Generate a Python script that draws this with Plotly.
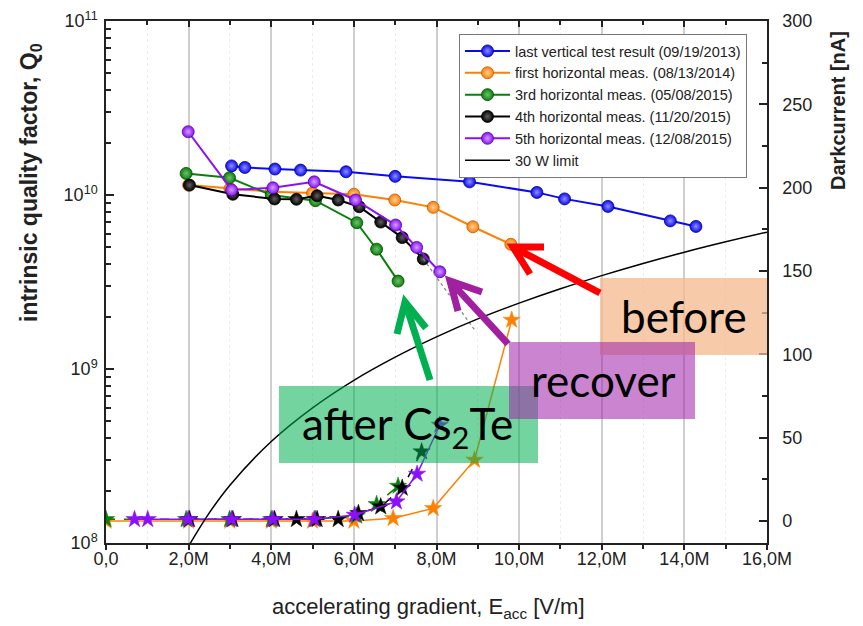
import plotly.graph_objects as go

# ---------------- data ----------------
E_blue = [3.04, 3.36, 4.09, 4.71, 5.81, 7.00, 8.80, 10.43, 11.10, 12.15, 13.66, 14.28]
Q_blue = [1.47e10, 1.44e10, 1.41e10, 1.39e10, 1.36e10, 1.28e10, 1.19e10, 1.035e10, 9.5e9, 8.6e9, 7.1e9, 6.6e9]

E_orange = [2.0, 3.0, 4.0, 5.0, 6.0, 6.99, 7.92, 8.88, 9.80]
Q_orange = [1.14e10, 1.087e10, 1.044e10, 1.026e10, 1.01e10, 9.36e9, 8.49e9, 6.57e9, 5.21e9]

E_green = [1.94, 2.99, 4.0, 5.07, 6.07, 6.55, 7.07]
Q_green = [1.33e10, 1.256e10, 1.0e10, 9.27e9, 6.93e9, 4.88e9, 3.2e9]

E_black = [2.02, 3.07, 4.08, 4.61, 5.11, 5.62, 6.13, 6.65, 7.17, 7.68]
Q_black = [1.14e10, 1.01e10, 9.49e9, 9.45e9, 9.9e9, 9.36e9, 8.56e9, 6.99e9, 5.69e9, 4.29e9]
E_black_ext = [7.68, 8.96]
Q_black_ext = [4.29e9, 1.63e9]

E_purple = [1.99, 3.04, 4.04, 5.04, 6.04, 7.01, 7.52, 8.08]
Q_purple = [2.31e10, 1.07e10, 1.10e10, 1.19e10, 9.36e9, 6.72e9, 5.0e9, 3.62e9]

E_limit = [2.0, 2.5, 3, 4, 5, 6, 7, 8, 9, 10, 11, 12, 13, 14, 15, 16]
Q_limit = [9.6e7, 1.49e8, 2.15e8, 3.83e8, 5.98e8, 8.61e8, 1.17e9, 1.53e9, 1.94e9,
           2.39e9, 2.89e9, 3.44e9, 4.04e9, 4.69e9, 5.38e9, 6.12e9]

E_orange_dc = [0.0, 2.0, 3.0, 4.0, 5.0, 6.0, 6.95, 7.92, 8.92, 9.82]
I_orange_dc = [0, 0, 0, 0, 0, 0, 1.6, 7.6, 36.6, 120.6]
E_green_dc = [0.0, 1.94, 2.99, 4.0, 5.07, 6.07, 6.55, 7.07]
I_green_dc = [1, 1, 1, 1, 1, 3, 10, 21]
E_black_dc = [2.02, 3.07, 4.08, 4.61, 5.11, 5.62, 6.11, 6.65, 7.17, 7.64]
I_black_dc = [1, 1, 1, 1, 1, 1, 4.6, 8.6, 19.8, 41.6]
E_purple_dc = [0.69, 1.01, 1.99, 3.04, 4.04, 5.04, 6.02, 7.03, 7.53, 8.08]
I_purple_dc = [1, 1, 1, 1, 1, 1, 3.6, 11.6, 28.2, 57.6]

x_tickvals = [0, 2, 4, 6, 8, 10, 12, 14, 16]
x_ticktext = ["0,0", "2,0M", "4,0M", "6,0M", "8,0M", "10,0M", "12,0M", "14,0M", "16,0M"]
y_tickvals = [1e8, 1e9, 1e10, 1e11]
y_ticktext = ["10<sup>8</sup>", "10<sup>9</sup>", "10<sup>10</sup>", "10<sup>11</sup>"]
y2_tickvals = [0, 50, 100, 150, 200, 250, 300]

x_title = "accelerating gradient, E<sub>acc</sub> [V/m]"
y_title = "<b>intrinsic quality factor, Q<sub>0</sub></b>"
y2_title = "<b>Darkcurrent [nA]</b>"

# ---------------- geometry (window pixels; page body has an 8px margin) ----------------
OFF = 8
W, H = 863 - OFF, 626 - OFF
X_LEFT, X_RIGHT, Y_TOP, Y_BOT = 106, 767, 21, 543          # plot area in window px
ML, MT = X_LEFT - OFF, Y_TOP - OFF
MR, MB = W - (X_RIGHT - OFF), H - (Y_BOT - OFF)
PW, PH = X_RIGHT - X_LEFT, Y_BOT - Y_TOP


def px(xw):
    return (xw - X_LEFT) / PW


def py(yw):
    return (Y_BOT - yw) / PH


fig = go.Figure()

series = [
    ("last vertical test result (09/19/2013)", E_blue, Q_blue, "#0a0af5", "#9090ff", "#00008a"),
    ("first horizontal meas. (08/13/2014)", E_orange, Q_orange, "#ff8000", "#ffd0a0", "#c05800"),
    ("3rd horizontal meas. (05/08/2015)", E_green, Q_green, "#0a800a", "#70c070", "#004800"),
    ("4th horizontal meas. (11/20/2015)", E_black, Q_black, "#000000", "#606060", "#000000"),
    ("5th horizontal meas. (12/08/2015)", E_purple, Q_purple, "#8b10f5", "#d0a0ff", "#5a00a8"),
]

dc = [
    (E_orange_dc, I_orange_dc, "#ff8000", "solid"),
    (E_green_dc, I_green_dc, "#0a800a", "dash"),
    (E_black_dc, I_black_dc, "#000000", "dash"),
    (E_purple_dc, I_purple_dc, "#8b10f5", "solid"),
]
for ex, iy, col, dash in dc:
    fig.add_trace(go.Scatter(
        x=ex, y=iy, yaxis="y2", mode="lines+markers", showlegend=False,
        line=dict(color=col, width=1.5, dash=dash),
        marker=dict(symbol="star", size=13, color=col, line=dict(width=0.5, color=col)),
        hoverinfo="skip"))

for name, ex, q, col, light, dark in series:
    fig.add_trace(go.Scatter(
        x=ex, y=q, name=name, mode="lines+markers",
        line=dict(color=col, width=2),
        marker=dict(size=12, color=col, gradient=dict(type="radial", color=light),
                    line=dict(width=0.8, color=dark))))

fig.add_trace(go.Scatter(
    x=E_black_ext, y=Q_black_ext, mode="lines", showlegend=False,
    line=dict(color="#808080", width=1.2, dash="dot"), hoverinfo="skip"))

fig.add_trace(go.Scatter(
    x=E_limit, y=Q_limit, name="30 W limit", mode="lines", xaxis="x2",
    line=dict(color="black", width=1.5, shape="spline")))

FONT = "Liberation Sans, Arial, sans-serif"
tickfont = dict(family=FONT, size=18, color="#222")

fig.update_layout(
    width=W, height=H,
    margin=dict(l=ML, r=MR, t=MT, b=MB, autoexpand=False),
    paper_bgcolor="white", plot_bgcolor="white",
    font=dict(family=FONT, color="#222"),
    xaxis=dict(
        range=[0, 16], tickvals=x_tickvals, ticktext=x_ticktext, tickfont=tickfont,
        ticks="outside", ticklen=5, tickwidth=1.5, tickcolor="#222", ticklabelstandoff=-6,
        showline=True, linecolor="#222", linewidth=1.5,
        showgrid=True, gridcolor="#cfcfcf", gridwidth=1.5, zeroline=False,
        minor=dict(dtick=1, tick0=0, ticks="outside", ticklen=4, tickcolor="#222",
                   showgrid=True, gridcolor="#ececec", griddash="dot", gridwidth=1),
        automargin=False,
    ),
    xaxis2=dict(
        range=[0, 16], overlaying="x", side="top", anchor="y",
        tickvals=x_tickvals, showticklabels=False,
        ticks="inside", ticklen=6, tickwidth=1.5, tickcolor="#222",
        showline=True, linecolor="#222", linewidth=1.5, showgrid=False, zeroline=False,
        minor=dict(dtick=1, tick0=0, ticks="inside", ticklen=4, tickcolor="#222", showgrid=False),
    ),
    yaxis=dict(
        type="log", range=[8, 11], tickvals=y_tickvals, ticktext=y_ticktext, tickfont=tickfont,
        ticks="inside", ticklen=8, tickwidth=1.5, tickcolor="#222", ticklabelstandoff=3,
        showline=True, linecolor="#222", linewidth=1.5, showgrid=False, zeroline=False,
        minor=dict(tickmode="array",
                   tickvals=[m * 10 ** k for k in (8, 9, 10) for m in range(2, 10)],
                   ticks="inside", ticklen=5, tickcolor="#222", showgrid=False),
        automargin=False,
    ),
    yaxis2=dict(
        overlaying="y", side="right", anchor="x",
        range=[-13.2, 300], tickvals=y2_tickvals, tickfont=tickfont,
        ticks="inside", ticklen=8, tickwidth=1.5, tickcolor="#222", ticklabelstandoff=10,
        showline=True, linecolor="#222", linewidth=1.5, showgrid=False, zeroline=False,
        minor=dict(dtick=25, tick0=0, ticks="inside", ticklen=5, tickcolor="#222", showgrid=False),
        automargin=False,
    ),
    legend=dict(
        x=px(459), y=py(34), xanchor="left", yanchor="top",
        bgcolor="white", bordercolor="#777", borderwidth=1,
        font=dict(family=FONT, size=14.5, color="#222"), itemwidth=45, tracegroupgap=0,
    ),
    showlegend=True,
)

# axis titles placed as in the reference (not centred on the axes)
fig.add_annotation(text=x_title, x=px(428), y=py(608), xref="paper", yref="paper",
                   showarrow=False, font=dict(family=FONT, size=22, color="#222"),
                   xanchor="center", yanchor="middle")
fig.add_annotation(text=y_title, x=px(31), y=py(183), xref="paper", yref="paper",
                   showarrow=False, textangle=-90, font=dict(family=FONT, size=23, color="#222"),
                   xanchor="center", yanchor="middle")
fig.add_annotation(text=y2_title, x=px(838), y=py(111), xref="paper", yref="paper",
                   showarrow=False, textangle=-90, font=dict(family=FONT, size=20, color="#222"),
                   xanchor="center", yanchor="middle")

# ---------------- annotation boxes and arrows ----------------
boxes = [
    (600, 278, 767, 355, "rgba(244,185,140,0.75)"),   # before
    (279, 386, 538, 463, "rgba(0,176,80,0.55)"),       # after Cs2Te
    (509, 342, 695, 419, "rgba(160,32,170,0.55)"),     # recover
]
shapes = []
for x0, y0, x1, y1, fill in boxes:
    shapes.append(dict(type="rect", xref="paper", yref="paper",
                       x0=px(x0), x1=px(x1), y0=py(y1), y1=py(y0),
                       fillcolor=fill, line=dict(width=0), layer="above"))

arrows = [
    # tip, arm1, arm2, tail, color
    ((513, 247), (544, 247), (530, 274), (600, 293), "#ff0000"),
    ((450, 281), (482, 292), (458, 311), (508, 344), "#a020a0"),
    ((405, 302), (397, 334), (426, 328), (430, 380), "#00b050"),
]


def P(p):
    return f"{px(p[0])},{py(p[1])}"


for tip, a1, a2, tail, col in arrows:
    path = f"M{P(a1)} L{P(tip)} L{P(a2)} M{P(tip)} L{P(tail)}"
    shapes.append(dict(type="path", xref="paper", yref="paper", path=path,
                       line=dict(color=col, width=7), layer="above"))

fig.update_layout(shapes=shapes)

big = dict(family="Lato, Carlito, sans-serif", size=44, color="black")
for text, cx, cy in [("before", 684, 316), ("recover", 603, 380), ("after Cs<sub>2</sub>Te", 407, 426)]:
    fig.add_annotation(text=text, x=px(cx), y=py(cy), xref="paper", yref="paper",
                       showarrow=False, font=big, xanchor="center", yanchor="middle")

fig.write_html("out.html")
